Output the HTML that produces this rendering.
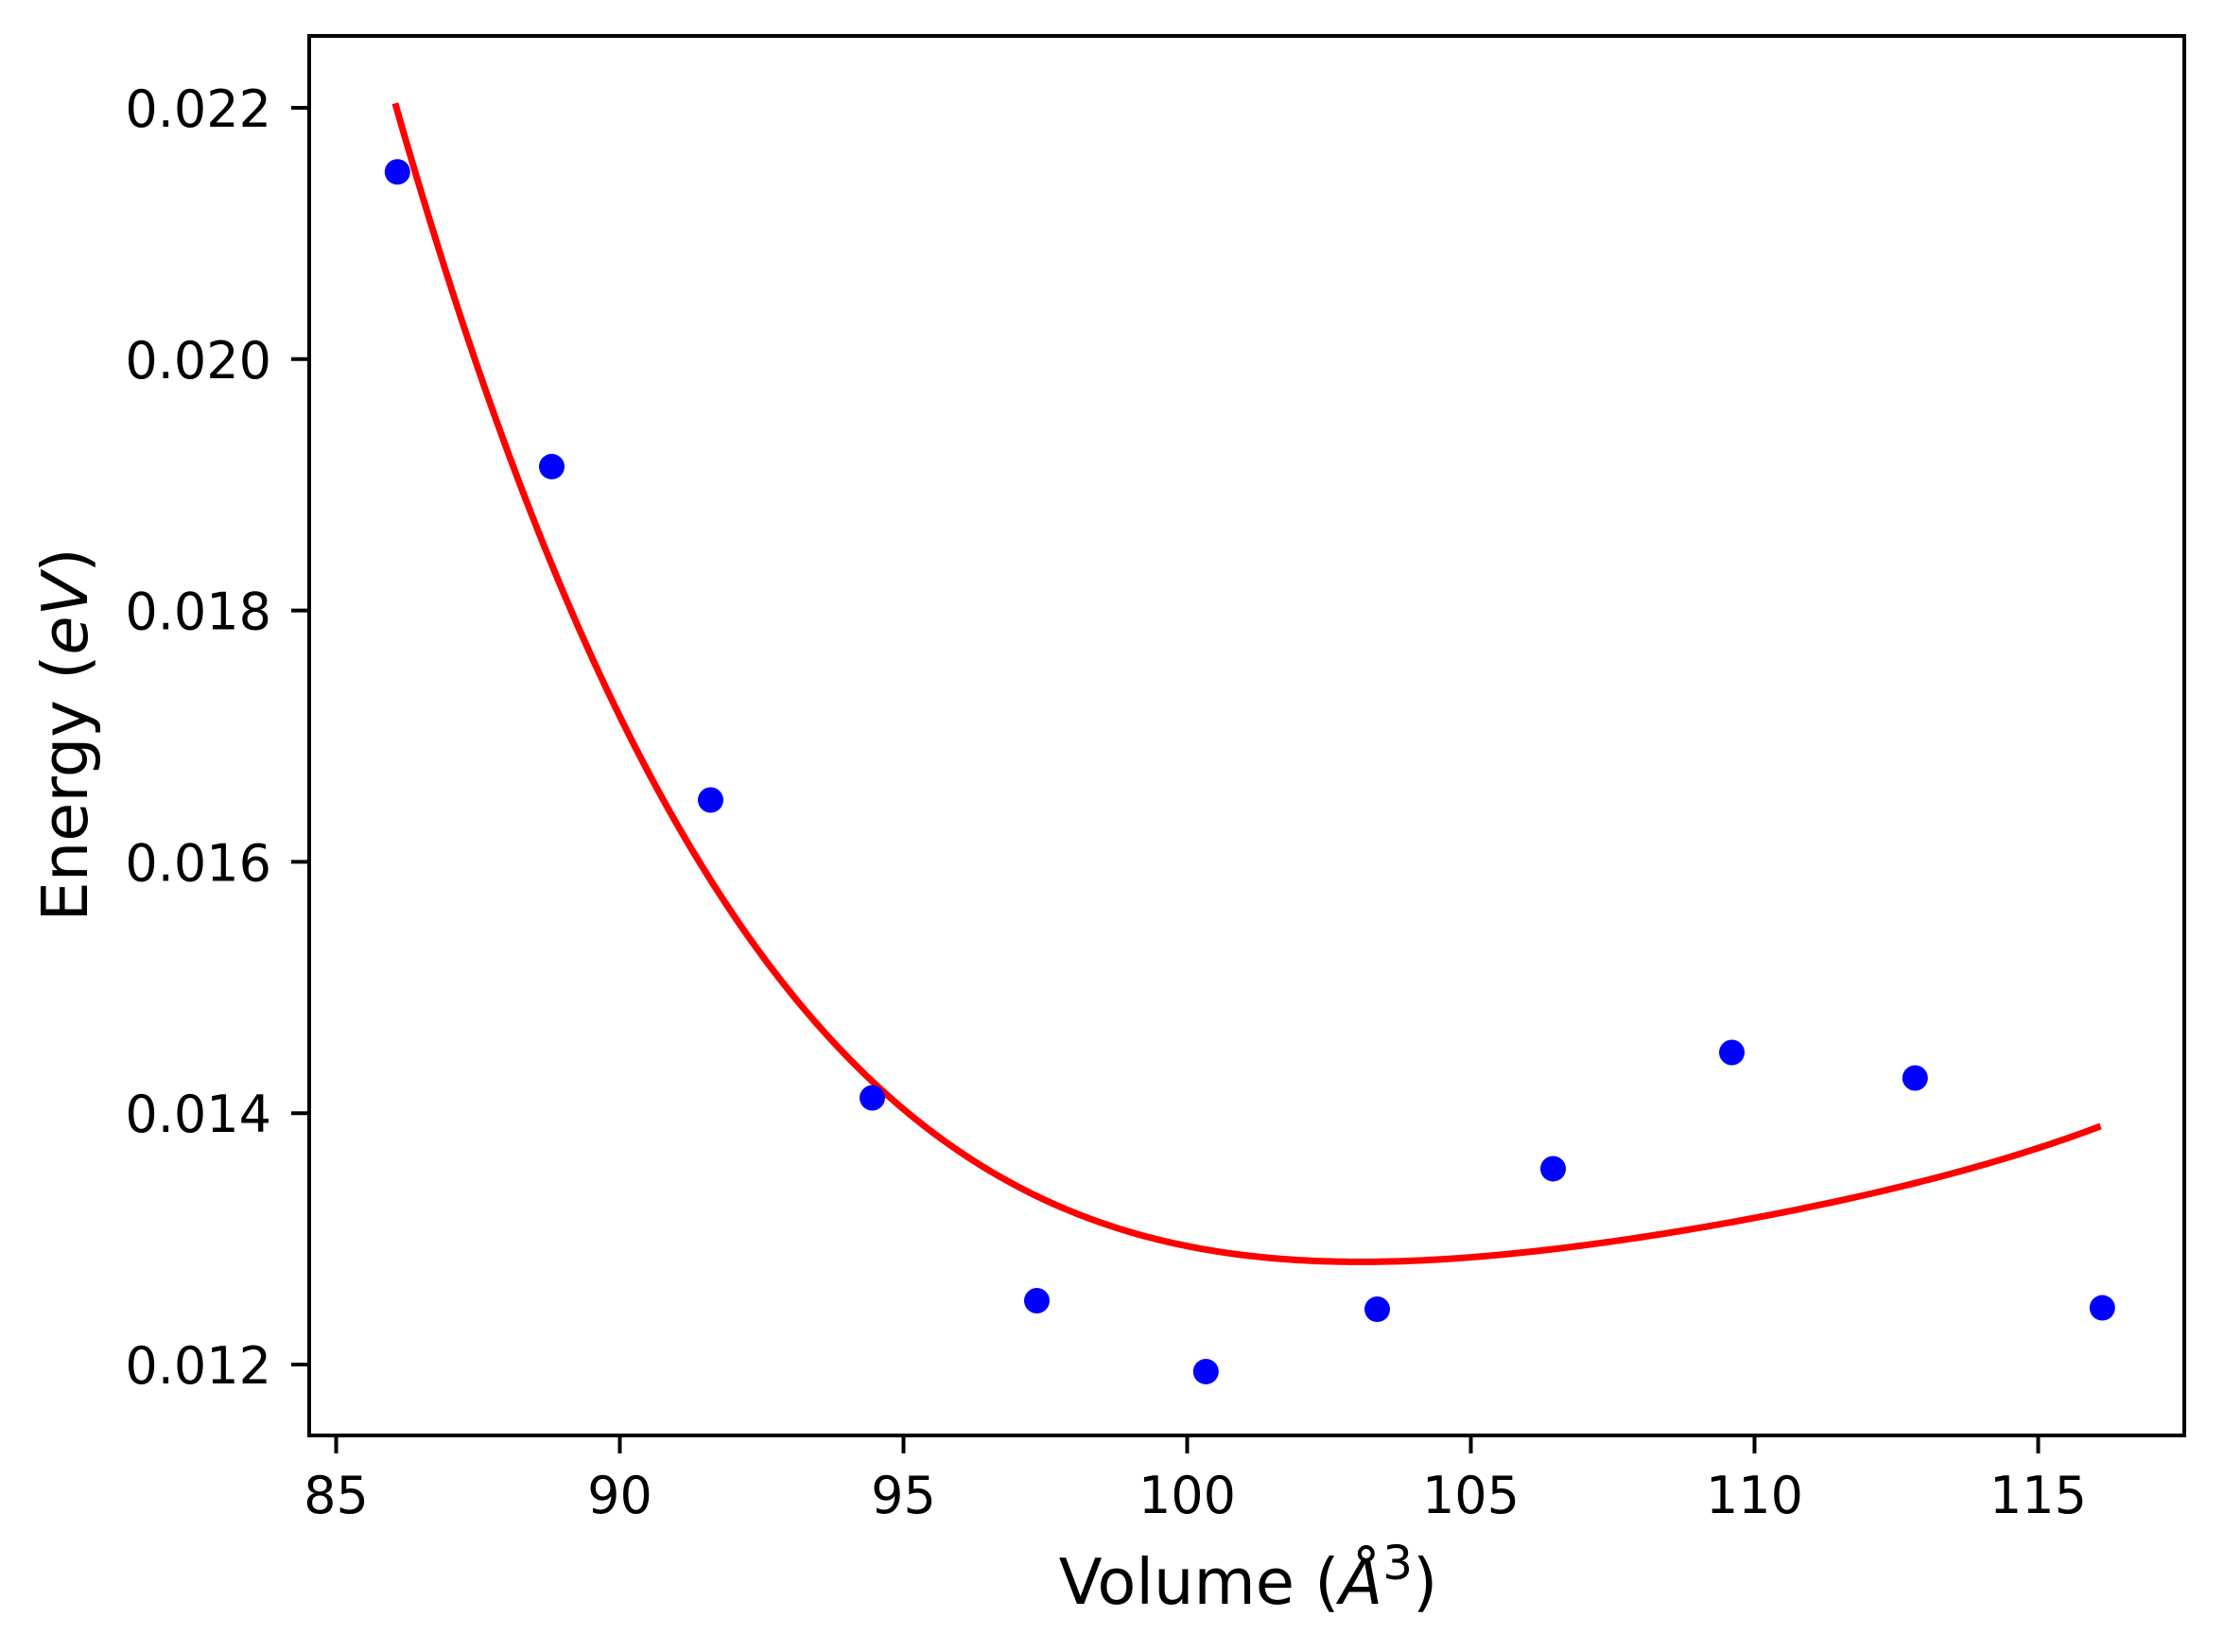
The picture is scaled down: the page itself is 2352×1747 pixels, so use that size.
<!DOCTYPE html>
<html><head><meta charset="utf-8"><style>
html,body{margin:0;padding:0;background:#fff;}
svg{display:block;font-family:"DejaVu Sans","Liberation Sans",sans-serif;}
</style></head><body>
<svg id="chart" width="2352" height="1747" viewBox="0 0 2352 1747" xmlns="http://www.w3.org/2000/svg">
<rect width="2352" height="1747" fill="#fff"/>
<g id="plot"></g>
</svg>
<script>
const volumes=[86.08,88.8,91.6,94.45,97.35,100.33,103.35,106.45,109.6,112.83,116.13];
const energies=[0.02149,0.019145,0.016492,0.014122,0.012508,0.011944,0.01244,0.013558,0.014483,0.01428,0.012451];
const fitVolumes=[86.04,87.07,88.19,89.29,90.41,91.79,94.6,97.58,99.7,103.2,105.74,110,112.5,116.1];
const fitEnergies=[0.02208,0.02046,0.01905,0.01785,0.0168,0.01571,0.01419,0.01332,0.0130,0.01278,0.01286,0.01316,0.01345,0.01388];
const xTicks=[85,90,95,100,105,110,115];
const yTicks=[0.012,0.014,0.016,0.018,0.020,0.022];

const L=327,R=2310,T=38,B=1518;
const sx=v=>355.5+(v-85)*60;
const sy=e=>1443-(e-0.012)*132900;
const NS="http://www.w3.org/2000/svg";
const g=document.getElementById('plot');
function mk(tag,attrs,parent){const el=document.createElementNS(NS,tag);for(const k in attrs)el.setAttribute(k,attrs[k]);(parent||g).appendChild(el);return el;}

// least-squares quartic smoothing through sampled fit values
function polyfit(X,Y,deg){
  const x0=X[0],x1=X[X.length-1],c=(x0+x1)/2,s=(x1-x0)/2;
  const N=deg+1,A=[],b=[];
  for(let i=0;i<N;i++){A.push(new Array(N).fill(0));b.push(0);}
  X.forEach((xv,k)=>{const t=(xv-c)/s;const pw=[];for(let i=0;i<N;i++)pw.push(Math.pow(t,i));
    for(let i=0;i<N;i++){b[i]+=pw[i]*Y[k];for(let j=0;j<N;j++)A[i][j]+=pw[i]*pw[j];}});
  for(let i=0;i<N;i++){let p=i;for(let r=i+1;r<N;r++)if(Math.abs(A[r][i])>Math.abs(A[p][i]))p=r;
    [A[i],A[p]]=[A[p],A[i]];[b[i],b[p]]=[b[p],b[i]];
    for(let r=i+1;r<N;r++){const f=A[r][i]/A[i][i];for(let j=i;j<N;j++)A[r][j]-=f*A[i][j];b[r]-=f*b[i];}}
  const co=new Array(N).fill(0);
  for(let i=N-1;i>=0;i--){let sum=b[i];for(let j=i+1;j<N;j++)sum-=A[i][j]*co[j];co[i]=sum/A[i][i];}
  return v=>{const t=(v-c)/s;let r=0;for(let i=N-1;i>=0;i--)r=r*t+co[i];return r;};
}
const f=polyfit(fitVolumes,fitEnergies,4);
const v0=fitVolumes[0],v1=fitVolumes[fitVolumes.length-1];
let p='';
for(let k=0;k<=300;k++){const v=v0+(v1-v0)*k/300;p+=(k?' L':'M')+sx(v).toFixed(2)+','+sy(f(v)).toFixed(2);}
const curve=mk('path',{d:p,fill:'none',stroke:'#ff0000','stroke-width':7,'stroke-linejoin':'round'});



volumes.forEach((v,i)=>{
  const c=mk('circle',{cx:sx(v),cy:sy(energies[i]),r:13.5,fill:'#0000ff'});
  
  
});

const frame=mk('rect',{x:L,y:T,width:R-L,height:B-T,fill:'none',stroke:'#000','stroke-width':4});



xTicks.forEach(t=>{
  const x=sx(t);
  const tk=mk('line',{x1:x,x2:x,y1:B,y2:B+19,stroke:'#000','stroke-width':4});
  
  
  const tx=mk('text',{x:x,y:1600,'font-size':54,'text-anchor':'middle'});
  tx.textContent=t;
  
  
});
yTicks.forEach(t=>{
  const y=sy(t);
  const tk=mk('line',{x1:L-19,x2:L,y1:y,y2:y,stroke:'#000','stroke-width':4});
  
  
  const tx=mk('text',{x:287,y:y+20,'font-size':54,'text-anchor':'end'});
  tx.textContent=t.toFixed(3);
  
  
});

const xl=mk('text',{x:1320,y:1696,'font-size':67,'text-anchor':'middle'});
xl.innerHTML='Volume (<tspan font-style="italic">Å</tspan><tspan font-size="50" dy="-26">3</tspan><tspan dy="26">)</tspan>';



const yl=mk('text',{x:0,y:0,'font-size':67,'text-anchor':'middle',transform:'translate(92,777) rotate(-90)'});
yl.innerHTML='Energy (<tspan font-style="italic">eV</tspan>)';


</script>
</body></html>
